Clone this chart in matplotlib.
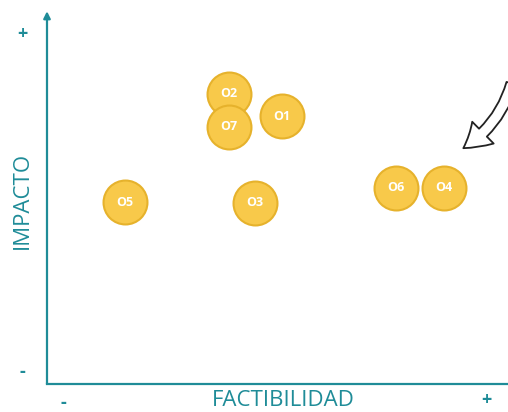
import matplotlib.pyplot as plt
from matplotlib.patches import FancyArrowPatch

# Opportunity labels and their position on the matrix (0-10 scale)
labels = ['O2', 'O7', 'O1', 'O5', 'O3', 'O6', 'O4']
factibilidad = [3.95, 3.95, 5.10, 1.69, 4.51, 7.57, 8.61]
impacto = [7.80, 6.91, 7.20, 4.89, 4.87, 5.27, 5.27]

teal = '#1f8c98'
fill = '#f8c94a'
edge = '#e6b22c'

plt.rcParams['font.family'] = ['Open Sans', 'DejaVu Sans']

fig = plt.figure(figsize=(5.08, 4.12), dpi=100)
ax = fig.add_axes([47 / 508, 28 / 412, 461 / 508, 372 / 412])
ax.set_xlim(0, 10)
ax.set_ylim(0, 10)
ax.axis('off')

# Axes lines
ax.plot([0, 10], [0, 0], color=teal, lw=1.6, clip_on=False)
ax.annotate('', xy=(0, 10.02), xytext=(0, 0),
            arrowprops=dict(arrowstyle='-|>', color=teal, lw=1.6,
                            mutation_scale=10, shrinkA=0, shrinkB=0),
            annotation_clip=False)

# Circles
for lab, x, y in zip(labels, factibilidad, impacto):
    ax.scatter(x, y, s=1000, color=fill, edgecolor=edge, linewidth=1.5,
               zorder=3, clip_on=False)
    ax.text(x, y, lab, color='white', fontsize=9, fontweight='bold',
            ha='center', va='center', zorder=4)

# Axis titles and signs
fig.text(283 / 508, 1 - 401 / 412, 'FACTIBILIDAD', color=teal, fontsize=16,
         ha='center', va='center')
fig.text(22 / 508, 1 - 200 / 412, 'IMPACTO', color=teal, fontsize=16,
         rotation=90, ha='center', va='center')
fig.text(22 / 508, 1 - 34 / 412, '+', color=teal, fontsize=13,
         fontweight='bold', ha='center', va='center')
fig.text(22 / 508, 1 - 372 / 412, '-', color=teal, fontsize=13,
         fontweight='bold', ha='center', va='center')
fig.text(63 / 508, 1 - 403 / 412, '-', color=teal, fontsize=13,
         fontweight='bold', ha='center', va='center')
fig.text(486 / 508, 1 - 400 / 412, '+', color=teal, fontsize=13,
         fontweight='bold', ha='center', va='center')

# Hand-drawn style curved arrow at top right
arr = FancyArrowPatch((10.1, 8.15), (8.98, 6.3),
                      connectionstyle='arc3,rad=-0.2',
                      arrowstyle='simple,head_width=2.2,head_length=1.8,tail_width=0.8',
                      mutation_scale=10, facecolor='white', edgecolor='#222222',
                      lw=1.3, clip_on=False, zorder=5)
ax.add_patch(arr)

fig.savefig('out.png', dpi=100)
